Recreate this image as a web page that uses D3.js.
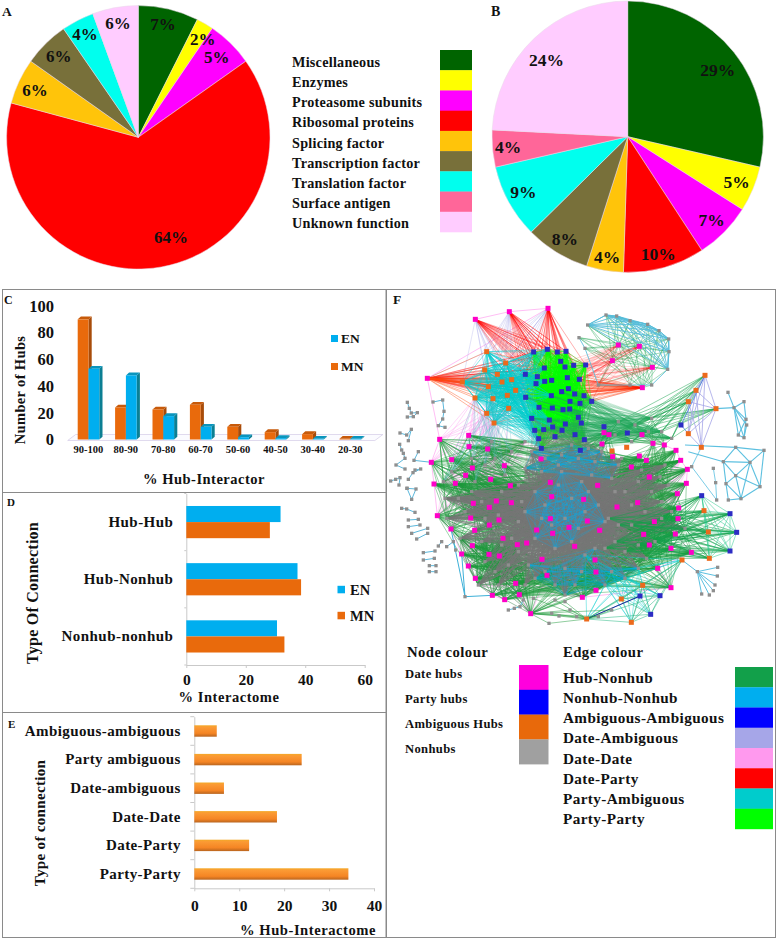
<!DOCTYPE html>
<html><head><meta charset="utf-8">
<script src="https://cdnjs.cloudflare.com/ajax/libs/d3/7.8.5/d3.min.js"></script>
<style>
html,body{margin:0;padding:0;background:#fff}
svg{display:block}
text{font-family:"Liberation Serif",serif;font-weight:bold;fill:#111}
</style></head><body>
<svg id="c" width="778" height="941"></svg>
<script>
// ---------- pies ----------
const functionNames=["Miscellaneous","Enzymes","Proteasome subunits","Ribosomal proteins","Splicing factor","Transcription factor","Translation factor","Surface antigen","Unknown function"];
const functionColors=["#006400","#ffff00","#ff00ff","#ff0000","#ffc40a","#78703a","#00ffee","#ff6699","#ffccff"];
const pieAShares=[7.4,2.1,5.7,64,5.6,5.6,4,0,5.6];
const pieALabels=["7%","2%","5%","64%","6%","6%","4%","","6%"];
const pieBShares=[28.6,5.4,6.8,9.7,4.4,7.7,8.8,4.4,24.2];
const pieBLabels=["29%","5%","7%","10%","4%","8%","9%","4%","24%"];
const pieALabelRadius=[.88,.89,.85,.80,.86,.86,.88,0,.88];
const pieALabelTurn=[-1,3,0,-8,-1,0,0,0,0];
const pieBLabelRadius=[.825,.87,.87,.89,.90,.885,.87,.885,.825];
const pieBLabelTurn=[2,0,0,1,0,0,1,0,-3];
// ---------- C ----------
const rangeBins=["90-100","80-90","70-80","60-70","50-60","40-50","30-40","20-30"];
const hubsMN=[90,24,22.5,26,9.5,5.5,4,.5];
const hubsEN=[53,48,17.5,9.5,1.7,1,.5,.5];
const hubTicks=[0,20,40,60,80,100];
// ---------- D ----------
const connectionTypes=["Hub-Hub","Hub-Nonhub","Nonhub-nonhub"];
const interactomeEN=[31.7,37.4,30.5];
const interactomeMN=[28.1,38.6,33];
const interactomeTicks=[0,20,40,60];
// ---------- E ----------
const hubConnectionTypes=["Ambiguous-ambiguous","Party ambiguous","Date-ambiguous","Date-Date","Date-Party","Party-Party"];
const hubInteractome=[5,23.9,6.6,18.4,12.2,34.3];
const hubInteractomeTicks=[0,10,20,30,40];
// ---------- F legend ----------
const nodeKinds=["Date hubs","Party hubs","Ambiguous Hubs","Nonhubs"];
const nodeColors=["#ff00dd","#0000ff","#e8690b","#a0a0a0"];
const edgeKinds=["Hub-Nonhub","Nonhub-Nonhub","Ambiguous-Ambiguous","Date-Ambiguous","Date-Date","Date-Party","Party-Ambiguous","Party-Party"];
const edgeColors=["#12a04a","#00aeef","#0000ff","#a6a6e8","#ff99ee","#ff0000","#00cccc","#00ff00"];
// ---------- F network (node positions; third field of a date hub = nonhub sectors it links to) ----------
const dateHubs=[[271,103,""],[373,80,""],[489,70,""],[127,280,""],[700,180,"T"],[763,184,"T"],[682,227,"T"],[802,247,"T"],[772,308,"T"],
[657,443,"RN"],[672,449,"RN"],[651,477,"RN"],[804,475,"RA"],[838,480,"RA"],[873,496,"AC"],[771,449,"R"],[763,513,"AC"],[784,526,"AN"],[683,515,"NC"],[739,546,"AC"],[887,526,"CW"],[907,553,"AC"],[793,576,"AE"],[904,595,"CE"],[877,626,"CE"],[758,653,"AE"],[881,669,"CE"],[879,701,"CS"],[808,710,"ES"],[871,747,"CS"],[776,748,"ES"],[793,780,"SE"],[858,790,"SE"],[919,802,"ES"],[818,850,"SE"],[858,908,"SE"],
[164,463,"DW"],[251,451,"DN"],[252,485,"DN"],[308,492,"DC"],[200,524,"DC"],[139,532,"DW"],[262,549,"WD"],[358,542,"DC"],[242,571,"WC"],[147,597,"WC"],[211,595,"WC"],[317,583,"WC"],[468,522,"NC"],[496,592,"NC"],[638,601,"CA"],[376,602,"WC"],[500,635,"CW"],[596,643,"CE"],[265,655,"WB"],[334,648,"WC"],[379,653,"CW"],[313,667,"WB"],[696,666,"EA"],[157,692,"WB"],[257,699,"WC"],[342,705,"BC"],[313,720,"WB"],[198,732,"WB"],[269,736,"BC"],[496,701,"CS"],[607,708,"CE"],[552,727,"CS"],[455,735,"CB"],[503,745,"SC"],[644,736,"ES"],[354,760,"BC"],[262,782,"BS"],[397,779,"BC"],[425,774,"BC"],[569,784,"SE"],[230,807,"BS"],[312,808,"BC"],[343,813,"BS"],[250,843,"BS"],[471,823,"SB"],[630,825,"SE"],[633,861,"SE"],[271,880,"BS"],[486,871,"SB"],[392,895,"BS"],[322,931,"BS"],[359,944,"BS"],[403,929,"SB"],[633,916,"SE"],[592,937,"SE"],[437,986,"SB"]];
const partyHubs=[[446,201],[487,193],[517,201],[543,199],[478,249],[527,229],[540,246],[566,241],[602,240],[421,268],[457,275],[500,286],[479,289],[453,296],[547,278],[583,283],[550,311],[530,320],[569,327],[597,332],[620,349],[422,337],[499,332],[462,367],[502,369],[534,374],[554,372],[555,349],[585,355],[440,400],[493,405],[541,417],[580,397],[589,414],[503,426],[476,434],[449,436],[531,436],[570,449],[510,455],[461,461],[598,464],[469,490],[586,496]];
const westPartyHubs=[[446,201],[487,193],[478,249],[421,268],[457,275],[479,289],[453,296],[422,337],[462,367],[440,400],[493,405],[476,434],[449,436],[461,461],[469,490],[499,332],[503,426]];
const outerPartyHubs=[[657,425],[727,444],[888,420]];
const rightPartyHubs=[[950,632],[1035,686],[1055,742],[1035,798]];
const bottomPartyHubs=[[765,933],[825,932],[797,988]];
const leftAmbiguous=[[305,200],[362,234],[299,255],[337,268],[351,291],[380,284],[232,291],[310,305],[392,316],[367,331],[270,339],[324,341],[305,385],[371,370],[327,414]];
const starAmbiguous=[[960,271],[933,316],[910,350],[993,371],[910,446],[949,487]];
const midAmbiguous=[[681,498],[725,487]];
const rightAmbiguous=[[957,677],[970,741],[973,820]];
const bottomAmbiguous=[[891,825],[773,901],[709,942],[605,1002],[739,1012]];
const topRightRing=[[608,120],[663,90],[695,93],[735,107],[788,118],[822,137],[851,162],[852,200],[848,253],[800,300],[735,300],[640,300],[600,190],[582,158]];
const sectorNonhubs={
C:[[520,600],[560,640],[480,660],[540,700],[600,680],[450,620],[500,720],[580,730],[640,660],[470,700],[530,560],[590,590],[420,680],[560,770],[510,790],[610,620],[660,710],[450,760]],
N:[[480,520],[530,510],[580,520],[630,530],[420,550],[470,560],[620,570],[680,580],[560,480],[610,490],[440,500],[700,540],[520,540],[650,500]],
A:[[720,620],[760,590],[800,620],[740,660],[830,650],[690,620],[780,680],[850,600],[840,540],[710,520],[825,575],[770,555]],
E:[[700,720],[740,720],[690,770],[760,780],[720,800],[810,770],[830,700],[670,700],[660,790],[900,730],[860,680],[785,820]],
S:[[480,860],[540,850],[590,860],[430,840],[510,900],[570,900],[630,790],[450,880],[540,930],[600,810],[680,860],[720,880],[760,850],[660,900]],
B:[[330,860],[370,840],[400,800],[300,830],[340,900],[420,900],[380,760],[290,770],[350,780],[225,760],[280,900]],
W:[[290,650],[350,620],[400,600],[260,620],[340,690],[400,710],[300,700],[240,680],[410,650],[180,640],[185,700],[220,640]],
D:[[330,520],[380,500],[300,540],[260,520],[420,470],[360,570],[270,590],[200,560],[320,470],[175,590]],
R:[[700,410],[750,420],[790,440],[830,440],[690,450],[740,470],[860,460],[800,400]]};
const outerGreySectors=["NN","AA","EE","SS","BB","WW","DD"];
const innerGreySectors=["CC","CN","CW","CE","CS","CB","CA"];
const cyanSectors=["CC","NN","SS"];
const rightCluster=[[1029,322],[1047,368],[1077,350],[1083,403],[1085,420],[1060,450],[1077,458],[993,371]];
const rightClusterLinks=[[0,1],[1,2],[1,3],[1,4],[1,5],[1,6],[3,6],[4,6],[5,6],[2,3],[1,7],[3,5]];
const farCluster=[[1137,496],[1052,487],[1015,530],[1095,532],[1125,605],[1068,641],[1030,645],[1023,596],[1052,572],[910,500],[900,480]];
const farClusterLinks=[[0,1],[0,3],[0,4],[1,2],[1,3],[2,3],[2,7],[2,8],[3,4],[3,5],[3,8],[4,5],[4,8],[5,6],[5,7],[5,8],[7,8],[7,6],[2,9],[1,10]];
const sideNonhubs=[[985,550],[992,593],[995,645],[920,545]];
const bottomStar=[[891,825],[937,860],[998,847],[997,873],[990,900],[985,917],[973,930],[950,927]];
const bottomStarLinks=[[0,1],[1,2],[1,3],[1,4],[1,5],[1,6],[1,7]];
const leftFragments=[
[[67,352],[73,370],[79,384],[97,383],[85,395],[67,396]],
[[144,351],[173,345],[177,379],[173,402],[160,422],[180,427]],
[[45,444],[65,450],[79,433],[70,467]],
[[44,478],[50,495],[55,505],[60,520],[33,540],[60,552]],
[[100,500],[87,526],[139,532]],
[[90,555],[107,552],[84,563],[70,583]],
[[17,588],[32,583],[45,578],[42,600]],
[[66,610],[93,612],[80,643],[66,610]],
[[50,670],[65,672],[90,682]],
[[70,705],[100,703]],[[70,725],[105,720]],[[80,745],[128,730]],[[95,762],[128,745]],
[[115,803],[150,798]],[[115,825],[148,820]],[[133,842],[153,842]],[[133,860],[153,860]],
[[160,783],[170,770]],[[185,785],[205,770],[212,795]]];
const bottomNonhubs=[[240,935],[370,975],[388,970],[405,965],[415,945],[445,940],[492,1015],[500,985],[522,993],[510,945],[540,950],[555,975],[640,995],[680,975],[575,995]];
const dateRimChain=[3,36,41,45,59,63,76,79,83,86,87,88,91,84,89,90,35,34,33,29,27,26,24,23,21,20,14,13,12,15,10];
const topHubIdx=[0,1,2,3];

const svg=d3.select("#c");
const TXT=(g,x,y,s,size,anchor,extra)=>{const t=g.append("text").attr("x",x).attr("y",y).attr("font-size",size).attr("text-anchor",anchor||"start").attr("dominant-baseline","central").text(s);if(extra)t.attr("letter-spacing",extra);return t;};

// --- pies ---
function drawPie(cx,cy,r,vals,labels,lr,turn,fs){
  const g=svg.append("g").attr("transform",`translate(${cx},${cy})`);
  const arcs=d3.pie().sort(null)(vals);
  const arc=d3.arc().innerRadius(0).outerRadius(r);
  g.selectAll("path").data(arcs).join("path").attr("d",arc).attr("fill",(d,i)=>functionColors[i]).attr("stroke","#e8d8e8").attr("stroke-width",.5);
  arcs.forEach((a,i)=>{ if(!a.value) return;
    const m=(a.startAngle+a.endAngle)/2+turn[i]*Math.PI/180, R=r*lr[i];
    TXT(g,Math.sin(m)*R,-Math.cos(m)*R,labels[i],fs,"middle");
  });
}
drawPie(138.3,137.3,131.7,pieAShares,pieALabels,pieALabelRadius,pieALabelTurn,17);
drawPie(627.7,136.7,135.7,pieBShares,pieBLabels,pieBLabelRadius,pieBLabelTurn,17.5);
TXT(svg,2,11,"A",13.5);
TXT(svg,491,11,"B",14);
const lgY=d3.scaleBand().domain(functionNames).range([50,232]);
svg.append("g").selectAll("rect").data(functionNames).join("rect").attr("x",440).attr("width",32).attr("y",d=>lgY(d)).attr("height",lgY.bandwidth()+.3).attr("fill",(d,i)=>functionColors[i]);
functionNames.forEach(n=>TXT(svg,292,lgY(n)+lgY.bandwidth()/2+1.5,n,14.2,"start",.25));

// --- panel frames ---
const frame=svg.append("g").attr("fill","none").attr("stroke","#8a8a8a").attr("stroke-width",1);
frame.append("rect").attr("x",2.5).attr("y",289.5).attr("width",383.5).attr("height",648);
frame.append("line").attr("x1",2.5).attr("x2",386).attr("y1",492.5).attr("y2",492.5);
frame.append("line").attr("x1",2.5).attr("x2",386).attr("y1",712.5).attr("y2",712.5);
frame.append("rect").attr("x",386.5).attr("y",289.5).attr("width",389).attr("height",648);

// --- C ---
const cx=d3.scaleBand().domain(rangeBins).range([69.7,368.9]);
const cy=d3.scaleLinear().domain([0,100]).range([439.5,306]);
const cg=svg.append("g");
cg.append("path").attr("d",d3.line()([[cx.range()[0]-2,cy(0)+1],[cx.range()[1]+6,cy(0)+1],[cx.range()[1]+14,cy(0)-5],[cx.range()[0]+6,cy(0)-5]])+"Z").attr("fill","#fbfbff").attr("stroke","#d8d0ea").attr("stroke-width",.8);
const BW=10.8,DX=3.2,DY=2.8;
function bar3d(x,v,front,side,top){
  const y=cy(v),b=cy(0);
  cg.append("path").attr("d",d3.line()([[x+BW,y],[x+BW+DX,y-DY],[x+BW+DX,b-DY],[x+BW,b]])+"Z").attr("fill",side);
  cg.append("path").attr("d",d3.line()([[x,y],[x+DX,y-DY],[x+BW+DX,y-DY],[x+BW,y]])+"Z").attr("fill",top);
  cg.append("rect").attr("x",x).attr("y",y).attr("width",BW).attr("height",Math.max(0,b-y)).attr("fill",front);
}
rangeBins.forEach((b,i)=>{
  const x=cx(b)+8;
  bar3d(x,hubsMN[i],"#e96a0c","#a84c0a","#c75a0a");
  bar3d(x+BW,hubsEN[i],"#00aeef","#0b7f93","#0a95bd");
});
const cya=cg.append("g").attr("transform","translate(54,0)").call(d3.axisLeft(cy).tickValues(hubTicks).tickSize(0).tickPadding(0));
cya.select(".domain").remove();
cya.selectAll("text").attr("font-size",16.5).attr("x",0);
const cxa=cg.append("g").attr("transform","translate(0,446)").call(d3.axisBottom(cx).tickSize(0).tickPadding(0));
cxa.select(".domain").remove();
cxa.selectAll("text").attr("font-size",10.5);
TXT(svg,204,479,"% Hub-Interactor",14.5,"middle",.5);
TXT(svg,0,0,"Number of Hubs",14.5,"middle",.35).attr("transform","translate(20,390) rotate(-90)");
TXT(svg,4,300,"C",12);
[["EN","#00aeef",338.5],["MN","#e96a0c",366.5]].forEach(([t,c,y])=>{
  svg.append("rect").attr("x",331).attr("y",y-3.5).attr("width",7).attr("height",7).attr("fill",c);
  TXT(svg,341,y,t,13.5);
});

// --- D ---
const dx=d3.scaleLinear().domain([0,60]).range([186.3,364.7]);
const dy=d3.scaleBand().domain(connectionTypes).range([493.5,665]);
const dg=svg.append("g");
const dxa=dg.append("g").attr("transform",`translate(0,${dy.range()[1]})`).call(d3.axisBottom(dx).tickValues(interactomeTicks).tickSize(3).tickPadding(6).tickSizeOuter(0));
dxa.selectAll("text").attr("font-size",15.5);
const dya=dg.append("g").attr("transform",`translate(${dx(0)},0)`).call(d3.axisLeft(dy).tickSize(0).tickPadding(13));
dya.selectAll("text").attr("font-size",15).attr("letter-spacing",.45);
dg.selectAll(".domain,.tick line").attr("stroke","#c9c9c9");
dg.append("g").selectAll("line").data(d3.range(4)).join("line").attr("x1",dx(0)-2).attr("x2",dx(0)).attr("y1",i=>dy.range()[0]+i*dy.step()).attr("y2",i=>dy.range()[0]+i*dy.step()).attr("stroke","#c9c9c9");
const barH=16.1;
connectionTypes.forEach((c,i)=>{
  const m=dy(c)+dy.bandwidth()/2;
  dg.append("rect").attr("x",dx(0)).attr("y",m-barH).attr("width",dx(interactomeEN[i])-dx(0)).attr("height",barH).attr("fill","#00aeef");
  dg.append("rect").attr("x",dx(0)).attr("y",m).attr("width",dx(interactomeMN[i])-dx(0)).attr("height",barH).attr("fill","#e96a0c");
});
TXT(svg,229,696.5,"% Interactome",14.5,"middle",.55);
TXT(svg,0,0,"Type Of Connection",16,"middle",.25).attr("transform","translate(32,593) rotate(-90)");
TXT(svg,7,502,"D",11);
[["EN","#00aeef",589.5],["MN","#e96a0c",615.5]].forEach(([t,c,y])=>{
  svg.append("rect").attr("x",337.5).attr("y",y-3.7).attr("width",7.5).attr("height",7.5).attr("fill",c);
  TXT(svg,350,y,t,14.5);
});

// --- E ---
const defs=svg.append("defs");
const grad=defs.append("linearGradient").attr("id","eBar").attr("x1",0).attr("x2",0).attr("y1",0).attr("y2",1);
[[0,"#f4a928"],[.18,"#fb9a34"],[.7,"#f58524"],[1,"#b9651f"]].forEach(([o,c])=>grad.append("stop").attr("offset",o).attr("stop-color",c));
const ex=d3.scaleLinear().domain([0,40]).range([194.3,374]);
const ey=d3.scaleBand().domain(hubConnectionTypes).range([716.7,888.3]);
const eg=svg.append("g");
const exa=eg.append("g").attr("transform",`translate(0,${ey.range()[1]})`).call(d3.axisBottom(ex).tickValues(hubInteractomeTicks).tickSize(3).tickPadding(9).tickSizeOuter(0));
exa.selectAll("text").attr("font-size",15.5);
const eya=eg.append("g").attr("transform",`translate(${ex(0)},0)`).call(d3.axisLeft(ey).tickSize(0).tickPadding(13.5));
eya.selectAll("text").attr("font-size",15).attr("letter-spacing",.4);
eg.selectAll(".domain,.tick line").attr("stroke","#c9c9c9");
eg.append("g").selectAll("line").data(d3.range(7)).join("line").attr("x1",ex(0)-4).attr("x2",ex(0)).attr("y1",i=>ey.range()[0]+i*ey.step()).attr("y2",i=>ey.range()[0]+i*ey.step()).attr("stroke","#c9c9c9");
eg.selectAll("rect.b").data(hubConnectionTypes).join("rect").attr("class","b").attr("x",ex(0)).attr("y",d=>ey(d)+ey.bandwidth()/2-5.7).attr("height",11.4).attr("width",(d,i)=>ex(hubInteractome[i])-ex(0)).attr("fill","url(#eBar)");
TXT(svg,308,930,"% Hub-Interactome",14.6,"middle",.55);
TXT(svg,0,0,"Type of connection",15.2,"middle",.25).attr("transform","translate(39,823) rotate(-90)");
TXT(svg,8,724,"E",11);

// --- F network ---
const fx=d3.scaleLinear().domain([0,1179]).range([385,778]);
const fy=d3.scaleLinear().domain([0,1050]).range([285,635]);
const net=svg.append("g");
function lines(pairs,color,w,op){
  net.append("g").attr("stroke",color).attr("stroke-width",w).attr("stroke-opacity",op)
    .selectAll("line").data(pairs).join("line")
    .attr("x1",d=>fx(d[0][0])).attr("y1",d=>fy(d[0][1])).attr("x2",d=>fx(d[1][0])).attr("y2",d=>fy(d[1][1]));
}
const cross=(a,b)=>a.flatMap(p=>b.map(q=>[p,q]));
const clique=a=>a.flatMap((p,i)=>a.slice(i+1).map(q=>[p,q]));
const chain=a=>a.slice(1).map((p,i)=>[a[i],p]);
const links=(a,l)=>l.map(([i,j])=>[a[i],a[j]]);
const sectorPairs=k=>k[0]===k[1]?clique(sectorNonhubs[k[0]]):cross(sectorNonhubs[k[0]],sectorNonhubs[k[1]]);
const topHubs=topHubIdx.map(i=>dateHubs[i]);

// date-date pale rim, date-ambiguous lavender
lines(chain(dateRimChain.map(i=>dateHubs[i])),edgeColors[4],.8,.8);
lines(chain(topHubs),edgeColors[4],.8,.8);
lines(cross(topHubs,leftAmbiguous.slice(0,9)),edgeColors[3],.7,.45);
lines(cross(dateHubs.slice(36,44),leftAmbiguous.slice(10)),edgeColors[4],.7,.55);
lines(cross(dateHubs.slice(54,66),sectorNonhubs.D),edgeColors[4],.6,.45);
lines(cross(dateHubs.slice(18,30),sectorNonhubs.S),edgeColors[4],.6,.4);
lines(cross(dateHubs.slice(70,92),sectorNonhubs.B),edgeColors[4],.6,.4);
// grey in the outer sectors lies under the green fans
lines(outerGreySectors.flatMap(sectorPairs),"#767676",.6,.6);
// hub-nonhub green
dateHubs.forEach(h=>{ [...h[2]].forEach(s=>{
  if(s==="T") lines(cross([h],topRightRing),edgeColors[0],.7,.55);
  else lines(cross([h],sectorNonhubs[s]),"#1d9a3a",.65,.66);
});});
// grey core lies over the green fans
lines(innerGreySectors.flatMap(sectorPairs),"#767676",.7,.85);
// star hubs
lines(cross(starAmbiguous.slice(0,4),sectorNonhubs.R),edgeColors[0],.8,.6);
lines(cross(rightPartyHubs.concat(rightAmbiguous),sectorNonhubs.E),edgeColors[0],.8,.65);
lines(clique(rightPartyHubs.concat(rightAmbiguous)),"#25c88a",.7,.7);
lines(cross(bottomPartyHubs.concat(bottomAmbiguous),sectorNonhubs.S.slice(9)),edgeColors[6],.7,.6);
lines(clique(bottomPartyHubs.concat(bottomAmbiguous)),"#2cb985",.75,.7);
lines(clique(starAmbiguous),edgeColors[3],.9,.9);
lines(chain([starAmbiguous[0],outerPartyHubs[2],starAmbiguous[4]]),"#3a6fe0",.9,.8);
lines(chain([bottomAmbiguous[3],bottomPartyHubs[0]]),"#1010a0",1,.9);
// top: date-party red
lines(cross(topHubs,partyHubs.slice(0,28)),edgeColors[5],.7,.45);
lines(cross([dateHubs[3],dateHubs[8]],leftAmbiguous.concat(partyHubs.slice(14,22))),"#ff4a10",.7,.6);
lines(cross(dateHubs.slice(4,9),partyHubs.slice(8,24)),edgeColors[5],.5,.3);
// party cluster: party-party, party-ambiguous, then links into the nonhub core
lines(clique(partyHubs),edgeColors[7],.55,.7);
lines(cross(leftAmbiguous,westPartyHubs),edgeColors[6],.65,.7);
lines(clique(leftAmbiguous),edgeColors[6],.65,.7);
lines(cross(partyHubs.slice(29),sectorNonhubs.N),"#767676",.5,.45);
lines(cross(partyHubs.slice(16),sectorNonhubs.R),"#1fa65a",.5,.45);
lines(cross(leftAmbiguous.slice(10),sectorNonhubs.D),"#59b6c4",.5,.5);
// nonhub-nonhub cyan on top
lines(cyanSectors.flatMap(sectorPairs),edgeColors[1],.5,.55);
// far clusters
lines(clique(topRightRing.slice(0,9)).concat(chain(topRightRing)),"#55bcd8",1,.85);
lines(links(rightCluster,rightClusterLinks),"#5cc0e0",1.1,1);
lines(links(farCluster,farClusterLinks),"#5cc0e0",1.1,1);
lines(links(bottomStar,bottomStarLinks),"#5cc0e0",1,1);
lines(leftFragments.flatMap(chain),"#5cb8dc",1,1);
lines(chain(sideNonhubs.concat([starAmbiguous[5]])),"#5cc0e0",.9,.9);
lines(cross([bottomNonhubs[0]],[[198,732],[322,931],[230,807]]),"#3cb0d8",1,1);
lines(chain(bottomNonhubs.slice(1,5)),"#5cb8dc",1,1);
lines(cross([[437,986],[605,1002]],bottomNonhubs.slice(5)),"#1d9a3a",.7,.7);
// nodes
function nodes(pts,color,size){
  net.append("g").selectAll("rect").data(pts).join("rect")
    .attr("x",d=>fx(d[0])-size/2).attr("y",d=>fy(d[1])-size/2).attr("width",size).attr("height",size).attr("fill",color);
}
const allGray=[...Object.values(sectorNonhubs).flat(),...topRightRing,...rightCluster.slice(0,7),...farCluster.slice(0,9),...sideNonhubs,...bottomStar.slice(1),...leftFragments.flat(),...bottomNonhubs];
nodes(allGray,"#8f8f8f",3.3);
nodes(partyHubs.concat(outerPartyHubs,rightPartyHubs,bottomPartyHubs),"#2c2cc4",5);
nodes(leftAmbiguous.concat(starAmbiguous,midAmbiguous,rightAmbiguous,bottomAmbiguous),"#ec6a1c",5);
nodes(dateHubs,"#ff00c8",5);
TXT(svg,393,299,"F",13.5);

// F legend
TXT(svg,407,652,"Node colour",14.7,"start",.45);
TXT(svg,563,652,"Edge colour",14.7,"start",.45);
const nlY=d3.scaleBand().domain(nodeKinds).range([665,764.2]);
svg.append("g").selectAll("rect").data(nodeKinds).join("rect").attr("x",519).attr("width",29.5).attr("y",d=>nlY(d)).attr("height",nlY.bandwidth()+.2).attr("fill",(d,i)=>nodeColors[i]);
nodeKinds.forEach(n=>TXT(svg,405,nlY(n)+nlY.bandwidth()/2-3,n,12.6,"start",.35));
const elY=d3.scaleBand().domain(edgeKinds).range([667,829]);
svg.append("g").selectAll("rect").data(edgeKinds).join("rect").attr("x",735).attr("width",38).attr("y",d=>elY(d)).attr("height",elY.bandwidth()+.2).attr("fill",(d,i)=>edgeColors[i]);
edgeKinds.forEach(n=>TXT(svg,563,elY(n)+elY.bandwidth()/2,n,15.2,"start",.4));
</script>
</body></html>
